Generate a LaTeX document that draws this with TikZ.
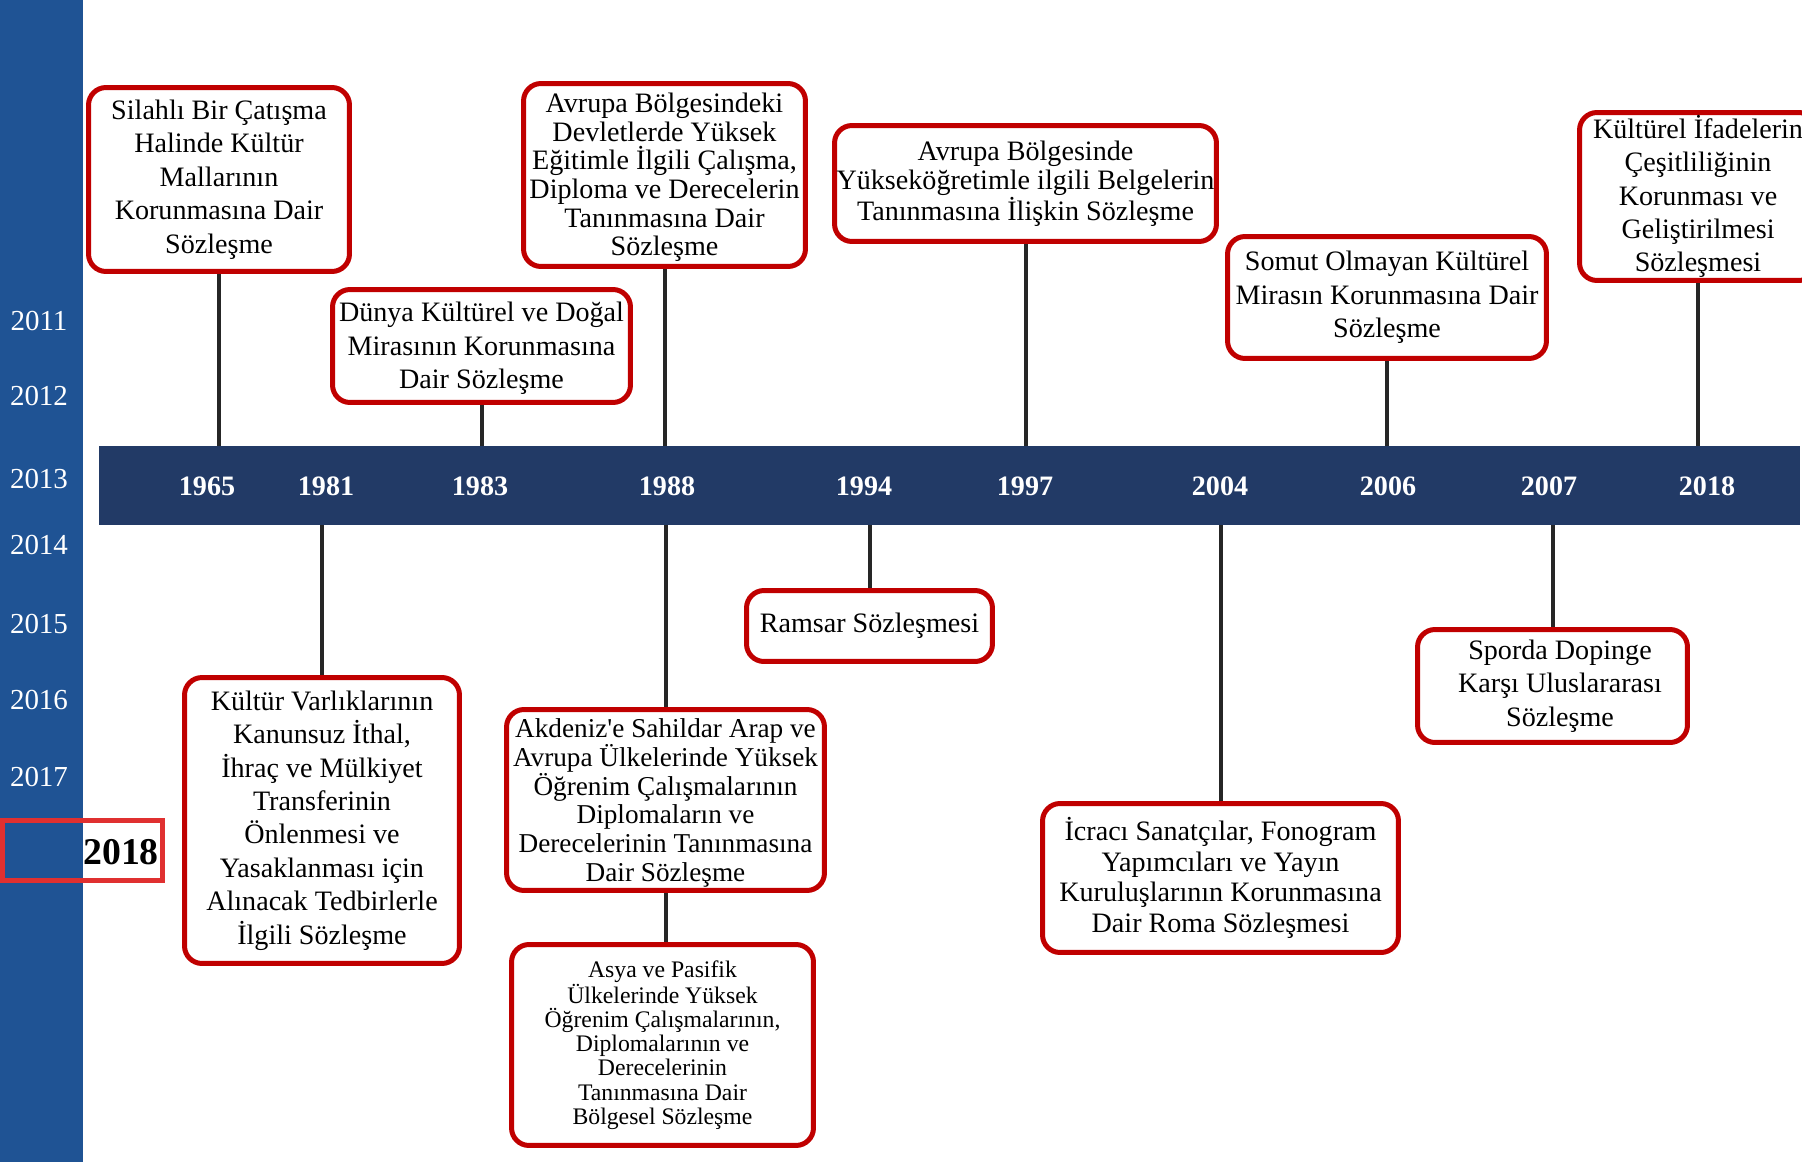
\documentclass[tikz,border=0pt]{standalone}
\usepackage{fontspec}
\setmainfont{Liberation Serif}
\newfontfamily\duzfont{Liberation Serif}[Ligatures=ResetAll]
\usetikzlibrary{backgrounds}
\definecolor{seritmavi}{HTML}{1F5394}
\definecolor{cubukrenk}{HTML}{223A66}
\definecolor{kutukirmizi}{HTML}{C00000}
\definecolor{vurgukirmizi}{HTML}{E03030}
\definecolor{baggri}{HTML}{262626}

\begin{document}
\begin{tikzpicture}[x=0.02cm, y=-0.02cm,
    kutu/.style={draw=kutukirmizi, line width=0.1cm, rounded corners=0.35cm, fill=white,
        align=center, inner sep=1pt, font=\fontsize{16}{19}\selectfont},
    yil/.style={text=white, font=\bfseries\fontsize{16}{19}\selectfont},
    solyil/.style={text=white, font=\fontsize{16.5}{19}\selectfont},
    bag/.style={draw=baggri, line width=0.08cm}]
        \clip (0,0) rectangle (1802,1162);

        % sol mavi serit ve yillar
        \fill[seritmavi] (0,0) rectangle (83,1162);
        \node[solyil] (s2011) at (39,321) {2011};
        \node[solyil] (s2012) at (39,396) {2012};
        \node[solyil] (s2013) at (39,479) {2013};
        \node[solyil] (s2014) at (39,545) {2014};
        \node[solyil] (s2015) at (39,624) {2015};
        \node[solyil] (s2016) at (39,700) {2016};
        \node[solyil] (s2017) at (39,777) {2017};
        \fill[white] (83,820) rectangle (163,880);
        \node[draw=vurgukirmizi, line width=0.1cm, minimum width=3.22cm, minimum height=1.2cm] (vurgu) at (82.5,850) {};
        \node[font=\bfseries\fontsize{21.5}{24}\selectfont] (s2018) at (121,852) {2018};

        % zaman cubugu
        \node[fill=cubukrenk, minimum width=34.02cm, minimum height=1.58cm, inner sep=0pt] (cubuk) at (949.5,485.5) {};
        \node[yil] (y1965) at (207,486) {1965};
        \node[yil] (y1981) at (326,486) {1981};
        \node[yil] (y1983) at (480,486) {1983};
        \node[yil] (y1988) at (667,486) {1988};
        \node[yil] (y1994) at (864,486) {1994};
        \node[yil] (y1997) at (1025,486) {1997};
        \node[yil] (y2004) at (1220,486) {2004};
        \node[yil] (y2006) at (1388,486) {2006};
        \node[yil] (y2007) at (1549,486) {2007};
        \node[yil] (y2018) at (1707,486) {2018};

        % ustteki sozlesmeler
        \node[kutu, minimum width=5.22cm, minimum height=3.68cm] (K1965) at (219,179.5)
            {Silahlı Bir Çatışma\\Halinde Kültür\\Mallarının\\Korunmasına Dair\\Sözleşme};
        \node[kutu, minimum width=5.96cm, minimum height=2.26cm] (K1983) at (481.5,346)
            {\rule{0pt}{14pt}Dünya Kültürel ve Doğal\\Mirasının Korunmasına\\Dair Sözleşme};
        \node[kutu, minimum width=5.64cm, minimum height=3.66cm, font=\fontsize{16}{16.3}\selectfont] (K1988a) at (664.5,175)
            {\rule{0pt}{14pt}Avrupa Bölgesindeki\\Devletlerde Yüksek\\Eğitimle İlgili Çalışma,\\Diploma ve Derecelerin\\Tanınmasına Dair\\Sözleşme};
        \node[kutu, minimum width=7.64cm, minimum height=2.32cm, font=\fontsize{16}{16.3}\selectfont] (K1997) at (1025.5,183.5)
            {Avrupa Bölgesinde\\Yükseköğretimle ilgili Belgelerin\\Tanınmasına İlişkin Sözleşme};
        \node[kutu, minimum width=6.38cm, minimum height=2.44cm] (K2006) at (1387,297.5)
            {Somut Olmayan Kültürel\\Mirasın Korunmasına Dair\\Sözleşme};
        \node[kutu, minimum width=4.74cm, minimum height=3.36cm] (K2018) at (1698,196.5)
            {Kültürel İfadelerin\\Çeşitliliğinin\\Korunması ve\\Geliştirilmesi\\Sözleşmesi};

        % alttaki sozlesmeler
        \node[kutu, minimum width=5.5cm, minimum height=5.72cm] (K1981) at (322,820.5)
            {Kültür Varlıklarının\\Kanunsuz İthal,\\İhraç ve Mülkiyet\\Transferinin\\Önlenmesi ve\\Yasaklanması için\\Alınacak Tedbirlerle\\İlgili Sözleşme};
        \node[kutu, minimum width=4.92cm, minimum height=1.42cm] (K1994) at (869.5,626)
            {Ramsar Sözleşmesi};
        \node[kutu, minimum width=6.36cm, minimum height=3.62cm, font=\fontsize{15.5}{16.3}\selectfont] (K1988b) at (665.5,800)
            {\rule{0pt}{14pt}Akdeniz{\duzfont'}e Sahildar Arap ve\\Avrupa Ülkelerinde Yüksek\\Öğrenim Çalışmalarının\\Diplomaların ve\\Derecelerinin Tanınmasına\\Dair Sözleşme};
        \node[kutu, minimum width=6.04cm, minimum height=4.02cm, font=\fontsize{13.5}{13.8}\selectfont] (K1988c) at (662.5,1045)
            {Asya ve Pasifik\\Ülkelerinde Yüksek\\Öğrenim Çalışmalarının,\\Diplomalarının ve\\Derecelerinin\\Tanınmasına Dair\\Bölgesel Sözleşme};
        \node[kutu, minimum width=7.12cm, minimum height=2.98cm, font=\fontsize{16}{17.5}\selectfont] (K2004) at (1220.5,878)
            {İcracı Sanatçılar, Fonogram\\Yapımcıları ve Yayın\\Kuruluşlarının Korunmasına\\Dair Roma Sözleşmesi};
        \node[kutu, minimum width=5.4cm, minimum height=2.26cm] (K2007) at (1552.5,686)
            {\hspace*{0.3cm}Sporda Dopinge\\\hspace*{0.3cm}Karşı Uluslararası\\\hspace*{0.3cm}Sözleşme};

        % baglantilar
        \begin{scope}[on background layer]
            \draw[bag] (K1965.south) -- (K1965.south |- cubuk.north);
            \draw[bag] (K1983.south) -- (K1983.south |- cubuk.north);
            \draw[bag] (K1988a.south) -- (K1988a.south |- cubuk.north);
            \draw[bag] (K1997.south) -- (K1997.south |- cubuk.north);
            \draw[bag] (K2006.south) -- (K2006.south |- cubuk.north);
            \draw[bag] (K2018.south) -- (K2018.south |- cubuk.north);
            \draw[bag] (K1981.north) -- (K1981.north |- cubuk.south);
            \draw[bag] (K1994.north) -- (K1994.north |- cubuk.south);
            \draw[bag] (K1988b.north) -- (K1988b.north |- cubuk.south);
            \draw[bag] (K1988b.south) -- (K1988b.south |- K1988c.north);
            \draw[bag] (K2004.north) -- (K2004.north |- cubuk.south);
            \draw[bag] (K2007.north) -- (K2007.north |- cubuk.south);
        \end{scope}
\end{tikzpicture}
\end{document}
